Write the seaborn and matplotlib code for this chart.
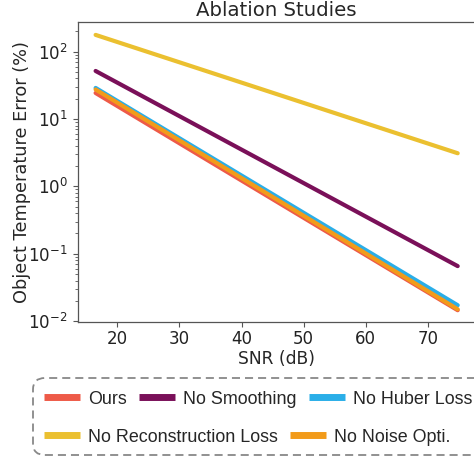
import numpy as np
import pandas as pd
import matplotlib
matplotlib.use("Agg")
import matplotlib.pyplot as plt
import seaborn as sns
from matplotlib.lines import Line2D
from matplotlib.patches import FancyBboxPatch

# Data (log-scale error vs SNR, endpoints of each line)
snr = [16.5, 74.8]
err_ours = [24.3, 0.0145]
err_no_smoothing = [51.6, 0.0655]
err_no_huber = [28.9, 0.0172]
err_no_recon = [177.0, 3.1]
err_no_noise = [27.4, 0.0150]

methods = ["Ours", "No Smoothing", "No Huber Loss",
           "No Reconstruction Loss", "No Noise Opti."]
colors = ["#EE5A48", "#7A1059", "#2AAEE8", "#EBC030", "#F29B1A"]

series = [err_ours, err_no_smoothing, err_no_huber, err_no_recon, err_no_noise]
df = pd.concat(
    [pd.DataFrame({"SNR": snr, "err": vals, "method": m}) for m, vals in zip(methods, series)],
    ignore_index=True,
)

sns.set_style("ticks")
plt.rcParams["font.family"] = ["DejaVu Sans"]
plt.rcParams["lines.scale_dashes"] = False
plt.rcParams.update({
    "xtick.major.size": 3.5, "ytick.major.size": 3.5,
    "xtick.minor.size": 2, "ytick.minor.size": 2,
    "xtick.major.width": 0.8, "ytick.major.width": 0.8,
    "ytick.minor.width": 0.6, "axes.linewidth": 0.9,
})

W, H = 474, 459
fig = plt.figure(figsize=(W / 100, H / 100), dpi=100)
ax = fig.add_axes([77.5 / W, 1 - 322 / H, (475.8 - 77.5) / W, 300 / H])

sns.lineplot(data=df, x="SNR", y="err", hue="method", hue_order=methods,
             palette=colors, linewidth=3, legend=False, ax=ax)
ax.set_yscale("log")
ax.set_ylim(0.0097, 275)
ax.set_xticks([20, 30, 40, 50, 60, 70])

for s in ax.spines.values():
    s.set_color("#555555")
ax.tick_params(axis="x", labelsize=12, colors="#222222", pad=2.5)
ax.tick_params(axis="y", labelsize=12, colors="#222222")
ax.tick_params(axis="both", which="both", color="#555555")
ax.set_xlabel("SNR (dB)", fontsize=12.3, labelpad=1)
ax.set_ylabel("Object Temperature Error (%)", fontsize=12.8, labelpad=-2)
ax.set_title("Ablation Studies", fontsize=14.2, pad=4)

# legend: two rows, each laid out on its own, inside a dashed rounded box
def handle(c):
    return Line2D([], [], color=c, lw=5, solid_capstyle="butt")

legend_kw = dict(frameon=False, borderpad=0, borderaxespad=0, handlelength=2.0,
                 handletextpad=0.45, columnspacing=0.7,
                 prop={"family": ["Liberation Sans"], "size": 12.9})
leg1 = fig.legend([handle(c) for c in colors[:3]], methods[:3], ncol=3,
                  loc="center left", bbox_to_anchor=(44 / W, 1 - 399 / H), **legend_kw)
leg2 = fig.legend([handle(c) for c in colors[3:]], methods[3:], ncol=2,
                  loc="center left", bbox_to_anchor=(44 / W, 1 - 437 / H), **legend_kw)

box = FancyBboxPatch((33 / W, 1 - 455 / H), (500 - 33) / W, (455 - 378) / H,
                     boxstyle="round,pad=0,rounding_size=0.025",
                     transform=fig.transFigure, fill=False, edgecolor="#888888",
                     linewidth=1.3, linestyle=(0, (5.8, 3.6)), clip_on=False)
fig.add_artist(box)

fig.savefig("out.png", dpi=100)
